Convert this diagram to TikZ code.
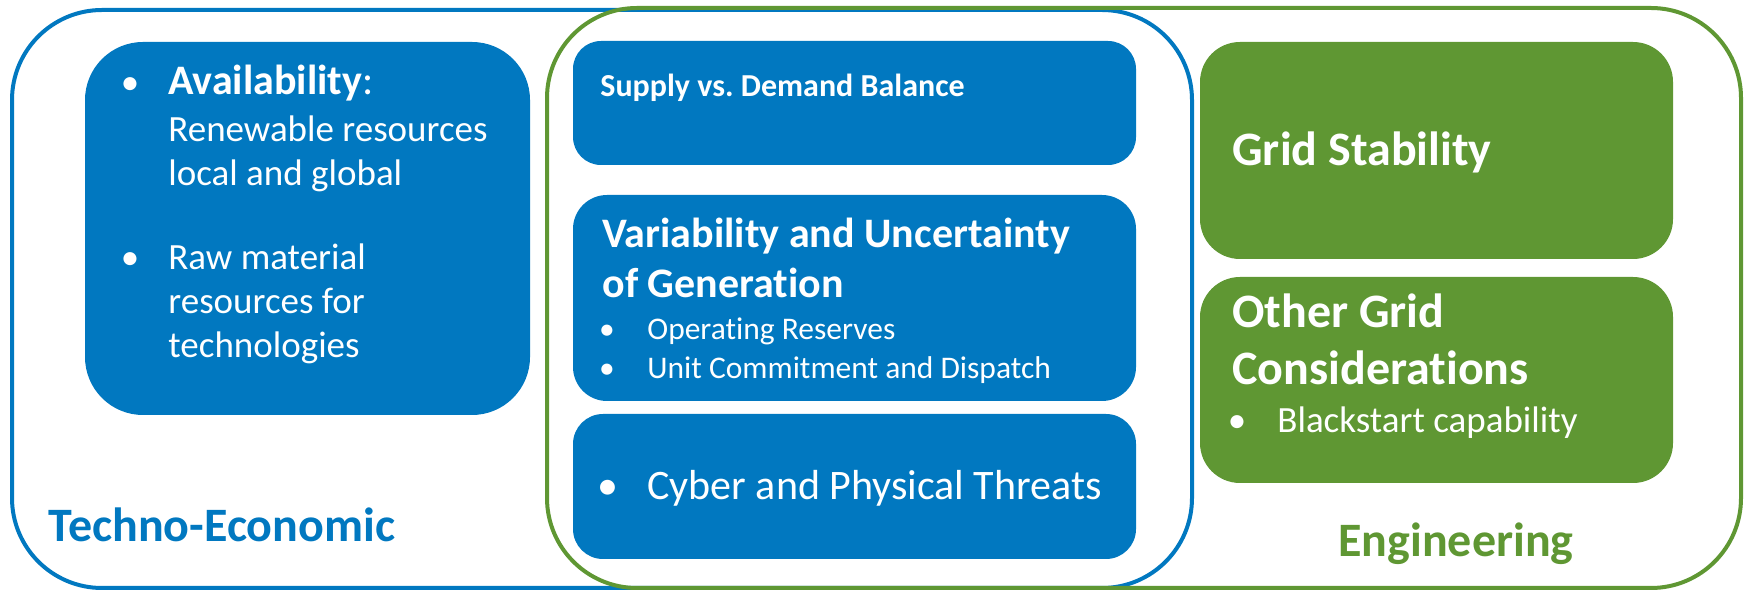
\documentclass[tikz,border=0pt]{standalone}
\usepackage{fontspec}
\setmainfont{Carlito}[Ligatures={NoCommon}]
\usetikzlibrary{fit}

\definecolor{teblue}{RGB}{1,120,192}
\definecolor{enggreen}{RGB}{95,151,51}
\frenchspacing

\begin{document}
\begin{tikzpicture}[x=0.5pt, y=-0.5pt,
    frame/.style={inner sep=0pt, line width=2pt, rounded corners=45pt},
    bluebox/.style={inner sep=0pt, fill=teblue, rounded corners=#1},
    greenbox/.style={inner sep=0pt, fill=enggreen, rounded corners=#1},
    txt/.style={inner sep=0pt, anchor=base west, text=white},
    dot/.style={inner sep=0pt, anchor=base, text=white}]
    \useasboundingbox (0,0) rectangle (1745,592);
    % the two overlapping areas
    \node[frame, draw=teblue, fit={(12,10) (1192,588)}] (techno) {};
    \node[frame, draw=enggreen, fit={(547,8) (1741,588)}] (eng) {};
    % blue boxes
    \node[bluebox=29pt, fit={(85,42) (530,415)}] (avail) {};
    \node[bluebox=14pt, fit={(573,41) (1136,165)}] (supply) {};
    \node[bluebox=17pt, fit={(573,195) (1136,401)}] (variab) {};
    \node[bluebox=15pt, fit={(573,414) (1136,559)}] (cyber) {};
    % green boxes
    \node[greenbox=20pt, fit={(1200,42) (1673,259)}] (stab) {};
    \node[greenbox=20pt, fit={(1200,277) (1673,483)}] (other) {};

    \node[dot, font=\fontsize{18.5}{22}\selectfont] (availdot) at (130,95) {\textbullet};
    \node[txt, font=\fontsize{21}{25}\selectfont] (availhead) at (168,95) {\textbf{Availability}:};
    \node[txt, font=\fontsize{18.5}{22}\selectfont] (avail1) at (168,142) {Renewable resources};
    \node[txt, font=\fontsize{18.5}{22}\selectfont] (avail2) at (168,186) {local and global};
    \node[dot, font=\fontsize{18.5}{22}\selectfont] (rawdot) at (130,270) {\textbullet};
    \node[txt, font=\fontsize{18.5}{22}\selectfont] (raw1) at (168,270) {Raw material};
    \node[txt, font=\fontsize{18.5}{22}\selectfont] (raw2) at (168,314) {resources for};
    \node[txt, font=\fontsize{18.5}{22}\selectfont] (raw3) at (168,358) {technologies};

    \node[txt, font=\bfseries\fontsize{16}{19}\selectfont] (supplytxt) at (600,97) {Supply vs. Demand Balance};

    \node[txt, font=\bfseries\fontsize{21}{25}\selectfont] (variab1) at (602,248) {Variability and Uncertainty};
    \node[txt, font=\bfseries\fontsize{21}{25}\selectfont] (variab2) at (602,298) {of Generation};
    \node[dot, font=\fontsize{15.75}{19}\selectfont] (resdot) at (607,340) {\textbullet};
    \node[txt, font=\fontsize{15.75}{19}\selectfont] (restxt) at (647,340) {Operating Reserves};
    \node[dot, font=\fontsize{15.75}{19}\selectfont] (ucdot) at (607,379) {\textbullet};
    \node[txt, font=\fontsize{15.75}{19}\selectfont] (uctxt) at (647,379) {Unit Commitment and Dispatch};

    \node[dot, font=\fontsize{21}{25}\selectfont] (cyberdot) at (608,500) {\textbullet};
    \node[txt, font=\fontsize{21}{25}\selectfont] (cybertxt) at (647,500) {Cyber and Physical Threats};

    \node[txt, font=\bfseries\fontsize{24}{29}\selectfont] (stabtxt) at (1232,166) {Grid Stability};
    \node[txt, font=\bfseries\fontsize{24}{29}\selectfont] (other1) at (1232,328) {Other Grid};
    \node[txt, font=\bfseries\fontsize{24}{29}\selectfont] (other2) at (1232,385) {Considerations};
    \node[dot, font=\fontsize{18.5}{22}\selectfont] (bsdot) at (1237,433) {\textbullet};
    \node[txt, font=\fontsize{18.5}{22}\selectfont] (bstxt) at (1277,433) {Blackstart capability};

    \node[txt, text=teblue, font=\bfseries\fontsize{24}{29}\selectfont] (technolbl) at (48,542) {Techno-Economic};
    \node[inner sep=0pt, anchor=base, text=enggreen, font=\bfseries\fontsize{24}{29}\selectfont] (englbl) at (1456,557) {Engineering};
\end{tikzpicture}
\end{document}
